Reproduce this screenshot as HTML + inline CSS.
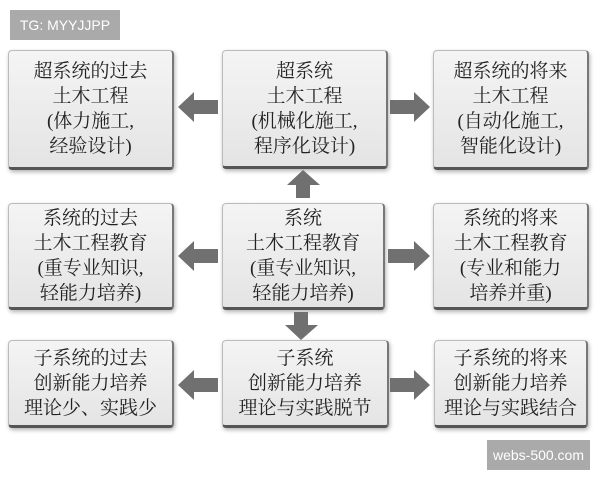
<!DOCTYPE html>
<html><head><meta charset="utf-8"><style>
body{margin:0;width:600px;height:480px;background:#fff;position:relative;overflow:hidden;font-family:"Liberation Serif","Noto Serif CJK SC",serif;}
.b{position:absolute;box-sizing:border-box;background:linear-gradient(#f4f4f4,#e4e4e4);border:1px solid #bbb;border-bottom:3px solid #555;border-right:2px solid #777;border-radius:4px;box-shadow:1px 2px 4px rgba(0,0,0,.3);display:flex;flex-direction:column;justify-content:center;align-items:center;text-align:center;font-size:19px;line-height:25px;color:#222;white-space:nowrap}
.tag{position:absolute;background:#aaa;color:#fff;font-family:"Liberation Sans",sans-serif;font-size:14px;display:flex;align-items:center;justify-content:center}
svg{position:absolute;left:0;top:0}
</style></head><body>
<div class="tag" style="left:10px;top:10px;width:110px;height:30px">TG: MYYJJPP</div>
<div class="tag" style="left:487px;top:440px;width:103px;height:30px">webs-500.com</div>

<div class="b" style="left:8px;top:50px;width:166px;height:120px"><div>超系统的过去</div><div>土木工程</div><div>(体力施工,</div><div>经验设计)</div></div>
<div class="b" style="left:222px;top:50px;width:166px;height:119px"><div>超系统</div><div>土木工程</div><div>(机械化施工,</div><div>程序化设计)</div></div>
<div class="b" style="left:433px;top:50px;width:156px;height:120px"><div>超系统的将来</div><div>土木工程</div><div>(自动化施工,</div><div>智能化设计)</div></div>

<div class="b" style="left:8px;top:203px;width:166px;height:107px"><div>系统的过去</div><div>土木工程教育</div><div>(重专业知识,</div><div>轻能力培养)</div></div>
<div class="b" style="left:222px;top:203px;width:163px;height:107px"><div>系统</div><div>土木工程教育</div><div>(重专业知识,</div><div>轻能力培养)</div></div>
<div class="b" style="left:433px;top:203px;width:156px;height:107px"><div>系统的将来</div><div>土木工程教育</div><div>(专业和能力</div><div>培养并重)</div></div>

<div class="b" style="left:8px;top:340px;width:166px;height:88px"><div>子系统的过去</div><div>创新能力培养</div><div>理论少、实践少</div></div>
<div class="b" style="left:222px;top:340px;width:167px;height:88px"><div>子系统</div><div>创新能力培养</div><div>理论与实践脱节</div></div>
<div class="b" style="left:434px;top:340px;width:154px;height:88px"><div>子系统的将来</div><div>创新能力培养</div><div>理论与实践结合</div></div>

<svg width="600" height="480" fill="#707070">
<!-- row1 -->
<polygon points="178,107 194,92 194,100 218,100 218,114 194,114 194,122"/>
<polygon points="430,107 414,92 414,100 390,100 390,114 414,114 414,122"/>
<!-- row2 -->
<polygon points="178,256 194,241 194,249 218,249 218,263 194,263 194,271"/>
<polygon points="430,256 414,241 414,249 388,249 388,263 414,263 414,271"/>
<!-- row3 -->
<polygon points="178,385 194,370 194,378 218,378 218,392 194,392 194,400"/>
<polygon points="430,385 414,370 414,378 390,378 390,392 414,392 414,400"/>
<!-- vertical -->
<polygon points="303,170 320,185 310,185 310,198 296,198 296,185 287,185"/>
<polygon points="301,340 318,325 308,325 308,312 294,312 294,325 285,325"/>
</svg>
</body></html>
